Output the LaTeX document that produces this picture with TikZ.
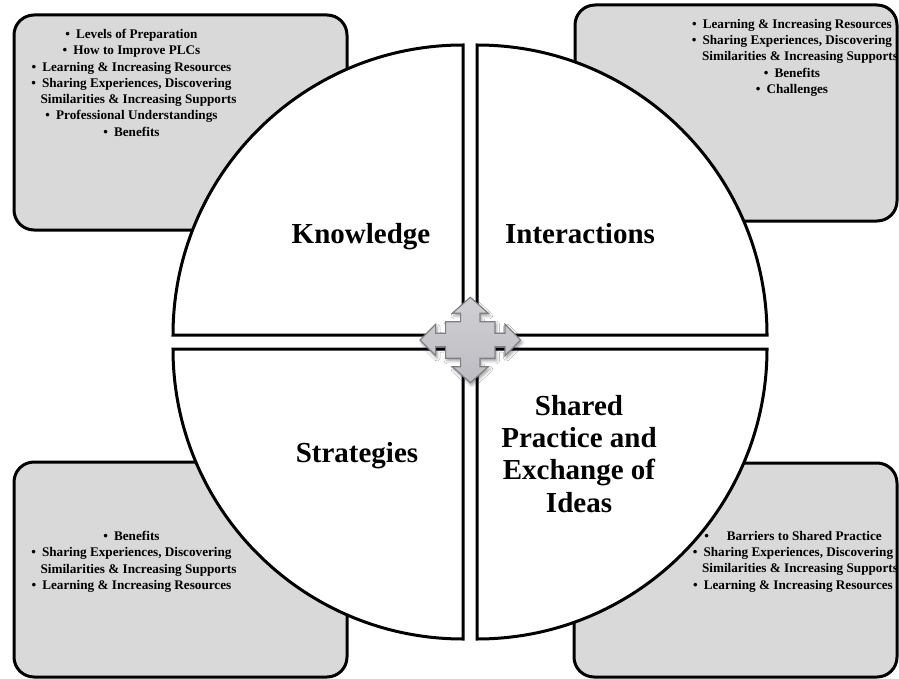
\documentclass[tikz,border=0pt]{standalone}
\usepackage{fontspec}
\setmainfont{Liberation Serif}
\usetikzlibrary{shadows.blur}
\definecolor{boxgray}{RGB}{217,217,217}
\definecolor{arrtop}{RGB}{208,208,212}
\definecolor{arrbot}{RGB}{188,188,194}
\definecolor{arredge}{RGB}{128,128,132}
\newcommand{\bul}{\textbullet\hspace{6pt}}
\begin{document}
\begin{tikzpicture}[x=1pt,y=-1pt,
  infobox/.style={draw=black, line width=3pt, fill=boxgray, rounded corners=20pt, inner sep=0pt},
  wedge/.style={draw=black, line width=3pt, fill=white, line join=miter},
  arrowshape/.style={draw=arredge, line width=1.2pt, top color=arrtop, bottom color=arrbot, line join=miter,
    blur shadow={shadow xshift=1.5pt, shadow yshift=-2.5pt, shadow blur radius=3pt, shadow opacity=40}},
  listtext/.style={align=center, inner sep=0pt, font=\fontsize{13.2}{16.3}\selectfont\bfseries},
  maintext/.style={align=center, inner sep=0pt, font=\fontsize{29}{32.3}\selectfont\bfseries}]

\useasboundingbox (0,0) rectangle (899,679);

% grey boxes behind the circle
\node[infobox, minimum width=333pt, minimum height=215pt] (boxK) at (180.5,122.5) {};
\node[infobox, minimum width=322pt, minimum height=216pt] (boxI) at (736,113) {};
\node[infobox, minimum width=333pt, minimum height=215pt] (boxS) at (180.5,569.5) {};
\node[infobox, minimum width=323pt, minimum height=214pt] (boxP) at (735.5,570) {};

% four quarter wedges
\draw[wedge] (463,335) -- ++(-290,0) arc[start angle=180, end angle=270, radius=290] -- cycle;
\draw[wedge] (477,335) -- ++(0,-290) arc[start angle=270, end angle=360, radius=290] -- cycle;
\draw[wedge] (463,349) -- ++(-290,0) arc[start angle=180, end angle=90, radius=290] -- cycle;
\draw[wedge] (477,349) -- ++(290,0) arc[start angle=0, end angle=90, radius=290] -- cycle;

% centre quad arrow
\begin{scope}[shift={(470.3,340)}]
\draw[arrowshape] (0,-42.7) -- (18,-26.7) -- (9.7,-26.7) -- (9.7,-18.3) -- (24.7,-18.3) -- (24.7,-6.7)
  -- (34.7,-6.7) -- (34.7,-15.7) -- (50.3,0) -- (34.7,15.7) -- (34.7,6.7) -- (24.7,6.7)
  -- (24.7,18.3) -- (9.7,18.3) -- (9.7,26.7) -- (18,26.7) -- (0,42.7) -- (-18,26.7)
  -- (-9.7,26.7) -- (-9.7,18.3) -- (-24.7,18.3) -- (-24.7,6.7) -- (-34.7,6.7) -- (-34.7,15.7)
  -- (-50.3,0) -- (-34.7,-15.7) -- (-34.7,-6.7) -- (-24.7,-6.7) -- (-24.7,-18.3) -- (-9.7,-18.3)
  -- (-9.7,-26.7) -- (-18,-26.7) -- cycle;
\end{scope}

% main labels
\node[maintext, anchor=base] (knowledge) at (361,243) {Knowledge};
\node[maintext, anchor=base] (interactions) at (580,243) {Interactions};
\node[maintext, anchor=base] (strategies) at (357,462) {Strategies};
\node[maintext, anchor=north] (shared) at (579,395) {Shared\\Practice and\\Exchange of\\Ideas};

% lists
\node[listtext, anchor=north] (listK) at (131.5,29) {%
\bul Levels of Preparation\\
\bul How to Improve PLCs\\
\bul Learning \& Increasing Resources\\
\bul Sharing Experiences, Discovering\\
\hspace*{14pt}Similarities \& Increasing Supports\\
\bul Professional Understandings\\
\bul Benefits};

\node[listtext, anchor=north] (listI) at (792,19) {%
\bul Learning \& Increasing Resources\\
\bul Sharing Experiences, Discovering\\
\hspace*{16pt}Similarities \& Increasing Supports\\
\bul Benefits\\
\bul Challenges};

\node[listtext, anchor=north] (listS) at (131.5,531) {%
\bul Benefits\\
\bul Sharing Experiences, Discovering\\
\hspace*{14pt}Similarities \& Increasing Supports\\
\bul Learning \& Increasing Resources};

\node[listtext, anchor=north] (listP) at (793,531) {%
\textbullet\hspace{18pt}Barriers to Shared Practice\\
\bul Sharing Experiences, Discovering\\
\hspace*{14pt}Similarities \& Increasing Supports\\
\bul Learning \& Increasing Resources};
\end{tikzpicture}
\end{document}
